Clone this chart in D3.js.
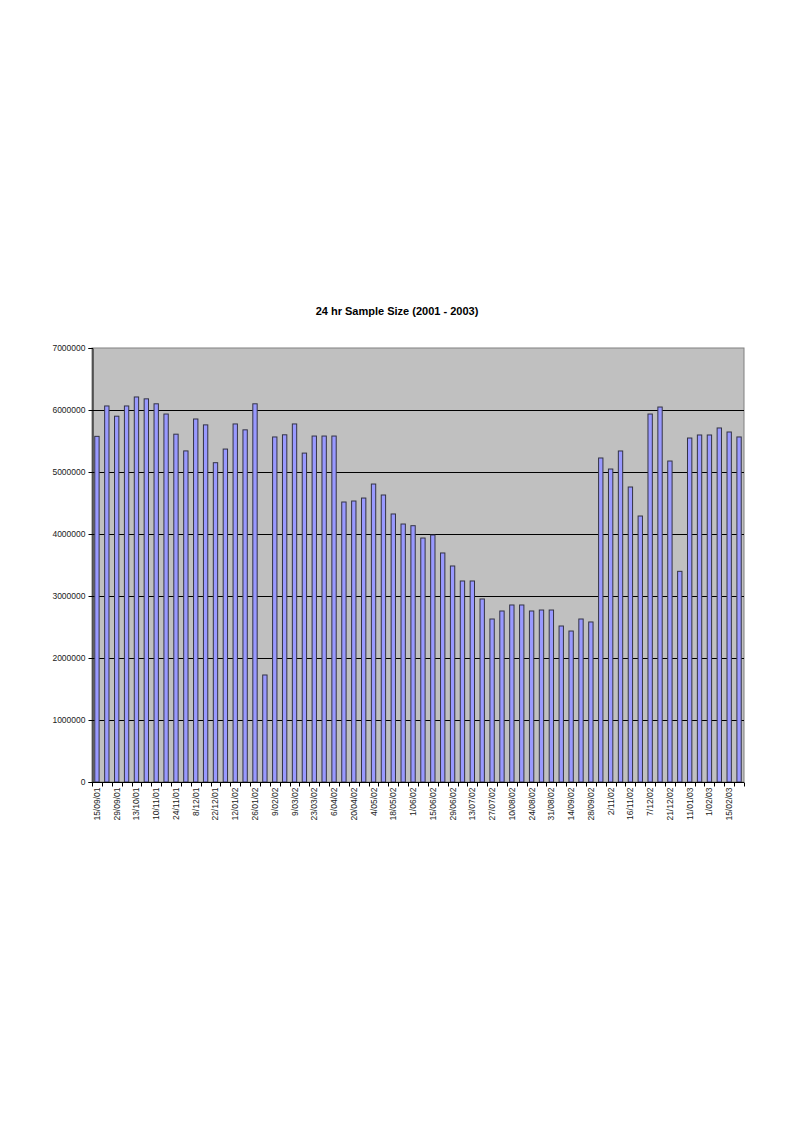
<!DOCTYPE html>
<html>
<head>
<meta charset="utf-8">
<script src="https://cdn.jsdelivr.net/npm/d3@7"></script>
<style>
  html, body { margin: 0; padding: 0; background: #ffffff; }
  svg { display: block; }
  text { font-family: "Liberation Sans", Arial, sans-serif; }
</style>
</head>
<body>
<svg id="chart" width="794" height="1123"></svg>
<script>
const title = "24 hr Sample Size (2001 - 2003)";

const categories = [
  "15/09/01","22/09/01","29/09/01","6/10/01","13/10/01","27/10/01","10/11/01","17/11/01",
  "24/11/01","1/12/01","8/12/01","15/12/01","22/12/01","5/01/02","12/01/02","19/01/02",
  "26/01/02","2/02/02","9/02/02","23/02/02","9/03/02","16/03/02","23/03/02","30/03/02",
  "6/04/02","13/04/02","20/04/02","27/04/02","4/05/02","11/05/02","18/05/02","25/05/02",
  "1/06/02","8/06/02","15/06/02","22/06/02","29/06/02","6/07/02","13/07/02","20/07/02",
  "27/07/02","3/08/02","10/08/02","17/08/02","24/08/02","28/08/02","31/08/02","7/09/02",
  "14/09/02","21/09/02","28/09/02","19/10/02","2/11/02","9/11/02","16/11/02","23/11/02",
  "7/12/02","14/12/02","21/12/02","28/12/02","11/01/03","18/01/03","1/02/03","8/02/03",
  "15/02/03","22/02/03"
];

const sampleSize = [
  5575000, 6065000, 5900000, 6065000, 6210000, 6180000, 6100000, 5935000,
  5610000, 5340000, 5855000, 5760000, 5150000, 5370000, 5775000, 5680000,
  6100000, 1726000, 5565000, 5600000, 5775000, 5305000, 5580000, 5580000,
  5580000, 4516000, 4532000, 4580000, 4806000, 4629000, 4323000, 4161000,
  4134000, 3935000, 3984000, 3694000, 3484000, 3242000, 3242000, 2952000,
  2629000, 2758000, 2855000, 2855000, 2758000, 2774000, 2774000, 2516000,
  2435000, 2629000, 2581000, 5226000, 5048000, 5339000, 4758000, 4290000,
  5935000, 6048000, 5177000, 3398000, 5548000, 5597000, 5597000, 5710000,
  5645000, 5565000
];

const yTicks = [0, 1000000, 2000000, 3000000, 4000000, 5000000, 6000000, 7000000];

const svg = d3.select("#chart");
const plot = { left: 92, right: 744, top: 348, bottom: 782 };

const x = d3.scaleBand()
  .domain(categories)
  .range([plot.left, plot.right])
  .paddingInner(0).paddingOuter(0);

const y = d3.scaleLinear()
  .domain([0, 7000000])
  .range([plot.bottom, plot.top]);

// title
svg.append("text")
  .attr("x", 397).attr("y", 315)
  .attr("text-anchor", "middle")
  .attr("font-size", "11px")
  .attr("font-weight", "bold")
  .attr("fill", "#000")
  .text(title);

// plot background
svg.append("rect")
  .attr("x", plot.left).attr("y", plot.top)
  .attr("width", plot.right - plot.left)
  .attr("height", plot.bottom - plot.top)
  .attr("fill", "#C0C0C0")
  .attr("stroke", "#808080")
  .attr("stroke-width", 1);

// gridlines
svg.append("g")
  .selectAll("line")
  .data(yTicks.filter(t => t > 0 && t < 7000000))
  .join("line")
  .attr("x1", plot.left).attr("x2", plot.right)
  .attr("y1", d => Math.round(y(d)) + 0.5)
  .attr("y2", d => Math.round(y(d)) + 0.5)
  .attr("stroke", "#000")
  .attr("stroke-width", 1);

// bars
const bw = x.bandwidth();
const barW = bw * 0.44;
svg.append("g")
  .selectAll("rect")
  .data(sampleSize)
  .join("rect")
  .attr("x", (d, i) => x(categories[i]) + (bw - barW) / 2)
  .attr("y", d => y(d))
  .attr("width", barW)
  .attr("height", d => plot.bottom - y(d))
  .attr("fill", "#9999FF")
  .attr("stroke", "#333344")
  .attr("stroke-width", 1);

// y axis
const yAxis = svg.append("g")
  .attr("transform", `translate(${plot.left + 0.5},0)`)
  .call(d3.axisLeft(y).tickValues(yTicks).tickSize(4).tickPadding(3).tickFormat(d3.format("d")));
yAxis.select(".domain").attr("stroke", "#000");
yAxis.selectAll(".tick line").attr("stroke", "#000");
yAxis.selectAll("text")
  .attr("font-size", "8.5px")
  .attr("font-family", "'Liberation Sans', Arial, sans-serif")
  .attr("fill", "#222");

// x axis
const xAxisG = svg.append("g")
  .attr("transform", `translate(0,${plot.bottom + 0.5})`);
xAxisG.append("line")
  .attr("x1", plot.left).attr("x2", plot.right)
  .attr("stroke", "#000");
// tick marks at category boundaries
xAxisG.selectAll("line.tk")
  .data(categories.concat(["__end"]))
  .join("line")
  .attr("class", "tk")
  .attr("x1", (d, i) => Math.round(plot.left + i * bw) + 0.5)
  .attr("x2", (d, i) => Math.round(plot.left + i * bw) + 0.5)
  .attr("y1", 0).attr("y2", 4)
  .attr("stroke", "#000");
// labels every other category
xAxisG.selectAll("text")
  .data(categories.filter((d, i) => i % 2 === 0))
  .join("text")
  .attr("transform", d => `translate(${x(d) + bw / 2 + 3},5) rotate(-90)`)
  .attr("text-anchor", "end")
  .attr("font-size", "8.5px")
  .attr("fill", "#222")
  .text(d => d);
</script>
</body>
</html>
